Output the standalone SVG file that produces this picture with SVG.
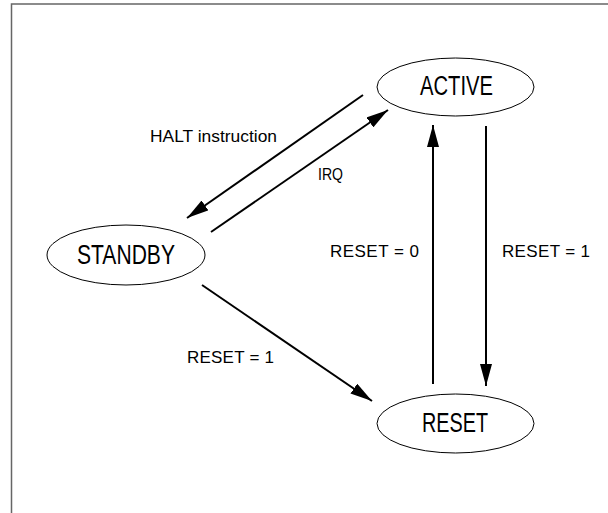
<svg xmlns="http://www.w3.org/2000/svg" width="608" height="513" viewBox="0 0 608 513">
<defs>
<style>
.node ellipse{fill:#fff;stroke:#000;stroke-width:1}
.node text{font-family:"Liberation Sans",Arial,sans-serif;font-size:27px;fill:#000}
.lbl{font-family:"Liberation Sans",Arial,sans-serif;font-size:17px;fill:#000}
.edge{stroke:#000;stroke-width:2;fill:none;marker-end:url(#ah)}
</style>
<marker id="ah" viewBox="0 0 22 12" refX="22" refY="6" markerWidth="22" markerHeight="12" markerUnits="userSpaceOnUse" orient="auto">
<path d="M0,0 L22,6 L0,12 Z" fill="#000"/>
</marker>
</defs>
<rect width="608" height="513" fill="#fff"/>
<path d="M11.5,513 V4 H608" fill="none" stroke="#666" stroke-width="1.5"/>
<g id="connectors">
<line class="edge" x1="363" y1="95" x2="187" y2="218"/>
<line class="edge" x1="211" y1="232" x2="388" y2="110"/>
<line class="edge" x1="433" y1="384" x2="433" y2="125"/>
<line class="edge" x1="486" y1="126" x2="486" y2="386"/>
<line class="edge" x1="202" y1="285" x2="372" y2="401"/>
<text class="lbl" x="150" y="142" textLength="127" lengthAdjust="spacingAndGlyphs">HALT instruction</text>
<text class="lbl" x="318" y="180" textLength="25" lengthAdjust="spacingAndGlyphs">IRQ</text>
<text class="lbl" x="330" y="257" textLength="89" lengthAdjust="spacing">RESET = 0</text>
<text class="lbl" x="502" y="257" textLength="88" lengthAdjust="spacing">RESET = 1</text>
<text class="lbl" x="187" y="363" textLength="87" lengthAdjust="spacing">RESET = 1</text>
</g>
<g id="ACTIVE" class="node">
<ellipse cx="455.5" cy="87" rx="78.5" ry="29"/>
<text x="420" y="95" textLength="73" lengthAdjust="spacingAndGlyphs">ACTIVE</text>
</g>
<g id="STANDBY" class="node">
<ellipse cx="126" cy="255" rx="79" ry="30"/>
<text x="77" y="264" textLength="98" lengthAdjust="spacingAndGlyphs">STANDBY</text>
</g>
<g id="RESET" class="node">
<ellipse cx="455.5" cy="423.5" rx="78.5" ry="29.5"/>
<text x="422" y="432" textLength="66" lengthAdjust="spacingAndGlyphs">RESET</text>
</g>
</svg>
